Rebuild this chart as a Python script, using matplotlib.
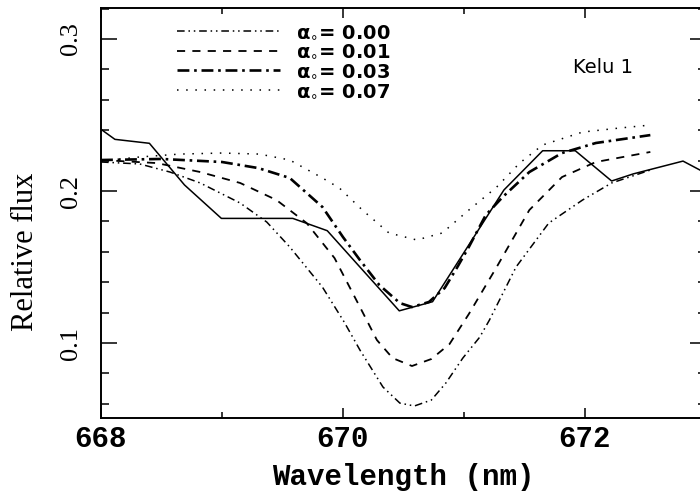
import matplotlib
matplotlib.use('Agg')
import matplotlib.pyplot as plt
from matplotlib.ticker import MultipleLocator

# observed spectrum (solid line)
obs_wl = [668.0, 668.115, 668.40, 668.69, 668.995, 669.585, 669.87, 670.465, 670.74,
          671.33, 671.65, 671.92, 672.22, 672.40, 672.81, 672.95]
obs_flux = [0.2406, 0.2340, 0.2314, 0.2040, 0.1820, 0.1820, 0.1739, 0.1212, 0.1272,
            0.2007, 0.2265, 0.2265, 0.2066, 0.2113, 0.2197, 0.2138]

# model spectra
m00_wl = [668.0, 668.32, 668.57, 668.82, 669.15, 669.37, 669.56, 669.83, 670.01, 670.14,
          670.33, 670.47, 670.59, 670.73, 670.85, 670.99, 671.13, 671.21, 671.43, 671.70,
          671.98, 672.22, 672.54]
m00_flux = [0.2191, 0.2178, 0.2125, 0.2053, 0.1921, 0.1796, 0.1632, 0.1368, 0.1138, 0.0954,
            0.0711, 0.0605, 0.0586, 0.0625, 0.0737, 0.0901, 0.1039, 0.1151, 0.1500, 0.1789,
            0.1941, 0.2053, 0.2138]

m01_wl = [668.0, 668.46, 668.82, 669.15, 669.45, 669.70, 669.93, 670.14, 670.28, 670.41,
          670.57, 670.73, 670.88, 671.04, 671.27, 671.54, 671.81, 672.09, 672.54]
m01_flux = [0.2204, 0.2184, 0.2125, 0.2053, 0.1941, 0.1789, 0.1559, 0.1237, 0.1020, 0.0901,
            0.0849, 0.0895, 0.0993, 0.1191, 0.1500, 0.1875, 0.2092, 0.2191, 0.2257]

m03_wl = [668.0, 668.5, 669.0, 669.3, 669.56, 669.83, 670.0, 670.14, 670.30, 670.47,
          670.57, 670.71, 670.84, 670.94, 671.04, 671.18, 671.32, 671.54, 671.81, 672.09, 672.54]
m03_flux = [0.2204, 0.2211, 0.2191, 0.2151, 0.2086, 0.1895, 0.1697, 0.1546, 0.1382, 0.1263,
            0.1237, 0.1270, 0.1362, 0.1493, 0.1632, 0.1842, 0.1961, 0.2125, 0.2250, 0.2316, 0.2368]

m07_wl = [668.0, 668.32, 668.65, 669.0, 669.31, 669.56, 669.83, 669.97, 670.16, 670.38,
          670.61, 670.82, 671.04, 671.27, 671.46, 671.65, 671.98, 672.28, 672.54]
m07_flux = [0.2197, 0.2224, 0.2243, 0.2250, 0.2243, 0.2204, 0.2086, 0.2020, 0.1875, 0.1724,
            0.1678, 0.1724, 0.1875, 0.2026, 0.2184, 0.2303, 0.2388, 0.2414, 0.2434]

labels = ['α$_{\\circ}$= 0.00', 'α$_{\\circ}$= 0.01', 'α$_{\\circ}$= 0.03', 'α$_{\\circ}$= 0.07']

fig = plt.figure(figsize=(7, 4.98), dpi=100)
ax = fig.add_axes([101 / 700, 80 / 498, 605 / 700, 410 / 498])

ax.plot(obs_wl, obs_flux, color='black', lw=1.1)
ax.plot(m00_wl, m00_flux, color='black', lw=1.1, dashes=(5, 2.5, 1, 2.5, 1, 2.5), label=labels[0])
ax.plot(m01_wl, m01_flux, color='black', lw=1.3, dashes=(4.5, 4), label=labels[1])
ax.plot(m03_wl, m03_flux, color='black', lw=1.9, dashes=(4.5, 1.8, 1, 1.8), label=labels[2])
ax.plot(m07_wl, m07_flux, color='black', lw=1.1, dashes=(1, 5), label=labels[3])

ax.set_xlim(668, 673)
ax.set_ylim(0.0507, 0.3204)
ax.xaxis.set_major_locator(MultipleLocator(2))
ax.xaxis.set_minor_locator(MultipleLocator(1))
ax.yaxis.set_major_locator(MultipleLocator(0.1))
ax.yaxis.set_minor_locator(MultipleLocator(0.02))

for s in ax.spines.values():
    s.set_linewidth(1.4)

ax.tick_params(which='both', direction='in', top=True, right=True, width=1.1)
ax.tick_params(axis='x', which='major', length=7.5, pad=5)
ax.tick_params(axis='x', which='minor', length=4)
ax.tick_params(axis='y', which='major', length=11.5, pad=14)
ax.tick_params(axis='y', which='minor', length=6)
ax.tick_params(axis='y', labelrotation=90)

for t in ax.get_xticklabels():
    t.set_fontfamily('Liberation Mono')
    t.set_fontweight('bold')
    t.set_fontsize(21)
for t in ax.get_yticklabels():
    t.set_fontfamily('Liberation Serif')
    t.set_fontsize(19)
    t.set_verticalalignment('center')

ax.set_xlabel('Wavelength (nm)', fontfamily='Liberation Mono', fontweight='bold', fontsize=21)
ax.xaxis.set_label_coords(0.5, -0.11)
ax.set_ylabel('Relative flux', fontfamily='Liberation Serif', fontsize=22)
ax.yaxis.set_label_coords(-0.1, 0.405)

ax.text(0.83, 0.855, 'Kelu 1', transform=ax.transAxes, fontsize=14,
        fontfamily='DejaVu Sans', ha='center', va='center')

leg = ax.legend(loc='upper left', bbox_to_anchor=(0.125, 0.965), frameon=False,
                handlelength=5.3, handletextpad=0.85, labelspacing=0.05,
                borderpad=0, borderaxespad=0,
                prop={'family': 'DejaVu Sans', 'weight': 'bold', 'size': 14})

fig.savefig('out.png', dpi=100)
